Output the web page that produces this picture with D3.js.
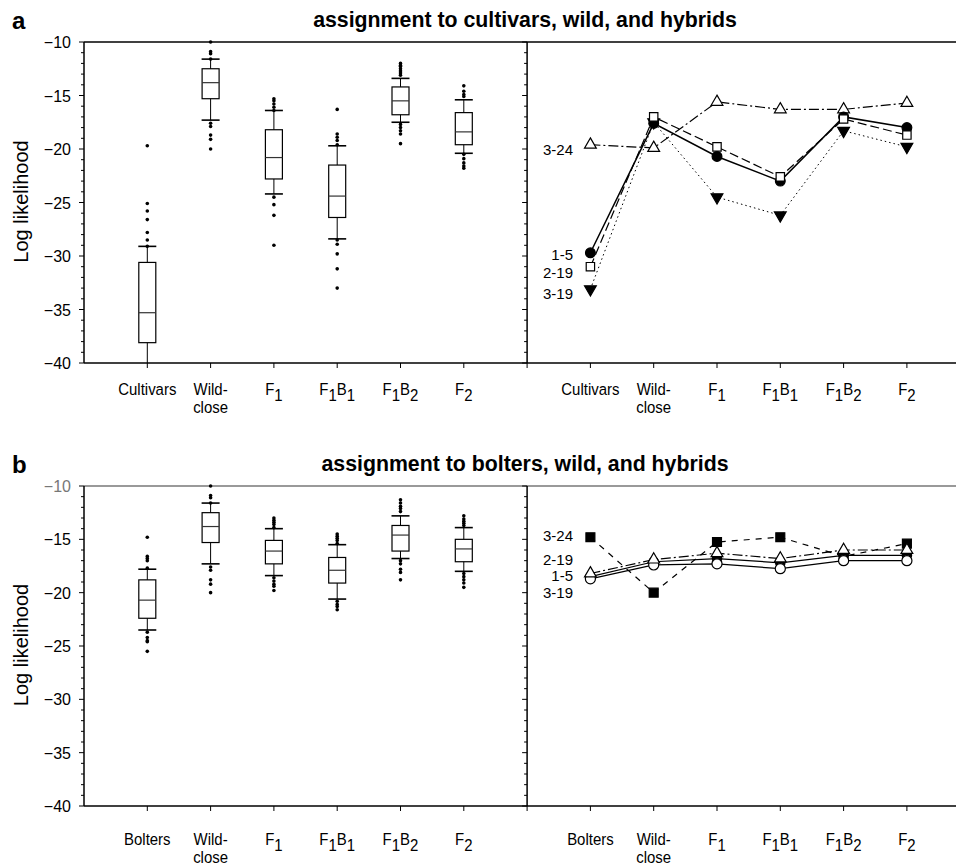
<!DOCTYPE html>
<html>
<head>
<meta charset="utf-8">
<script src="https://cdn.jsdelivr.net/npm/d3@7"></script>
<style>
  body { margin: 0; background: #fff; }
  svg { display: block; font-family: "Liberation Sans", Arial, sans-serif; }
</style>
</head>
<body>
<div id="chart"></div>
<script>
const W = 956, H = 867;

// categories
const catsA = ["Cultivars", "Wild-|close", "F_1", "F_1B_1", "F_1B_2", "F_2"];
const catsB = ["Bolters", "Wild-|close", "F_1", "F_1B_1", "F_1B_2", "F_2"];
const yTicks = [-10, -15, -20, -25, -30, -35, -40];

// panel a boxplots
const aLow    = [-40.0, -17.3, -24.2, -28.4, -17.5, -20.4];
const aQ1     = [-38.1, -15.3, -22.8, -26.4, -16.8, -19.6];
const aMedian = [-35.3, -13.8, -20.8, -24.4, -15.5, -18.4];
const aQ3     = [-30.6, -12.5, -18.2, -21.5, -14.2, -16.6];
const aHigh   = [-29.1, -11.6, -16.4, -19.7, -13.4, -15.4];
const aOutliers = [
  [-19.7, -25.1, -25.8, -26.6, -27.8, -28.5, -29.1],
  [-10.0, -10.9, -11.1, -11.6, -17.6, -17.9, -18.7, -19.1, -20.0],
  [-15.3, -15.5, -15.8, -16.1, -16.4, -24.5, -25.2, -26.2, -29.0],
  [-16.3, -18.6, -18.9, -19.2, -19.6, -28.5, -28.9, -29.8, -31.2, -33.0],
  [-12.0, -12.2, -12.3, -12.5, -12.7, -12.9, -13.1, -17.7, -18.0, -18.3, -18.6, -19.5],
  [-14.1, -14.6, -14.9, -15.1, -20.5, -20.9, -21.3, -21.6, -21.8]
];

// panel b boxplots
const bLow    = [-23.5, -17.3, -18.4, -20.6, -16.8, -18.0];
const bQ1     = [-22.4, -15.3, -17.3, -19.1, -16.1, -17.1];
const bMedian = [-20.7, -13.8, -16.1, -17.9, -14.6, -15.9];
const bQ3     = [-18.8, -12.5, -15.1, -16.7, -13.7, -15.0];
const bHigh   = [-17.8, -11.6, -14.0, -15.5, -12.8, -13.9];
const bOutliers = [
  [-14.8, -16.6, -16.8, -17.0, -17.7, -23.7, -24.2, -24.5, -24.6, -25.5],
  [-10.0, -10.9, -11.1, -11.6, -17.6, -17.9, -18.8, -19.2, -20.0],
  [-13.0, -13.2, -13.4, -13.6, -13.9, -18.6, -18.9, -19.2, -19.4, -19.8],
  [-14.5, -14.7, -14.9, -15.1, -15.4, -20.8, -21.1, -21.3, -21.6],
  [-11.3, -11.6, -11.9, -12.1, -12.4, -17.0, -17.3, -17.8, -18.1, -18.8],
  [-12.8, -13.1, -13.3, -13.5, -13.7, -18.2, -18.5, -18.8, -19.1, -19.5]
];

// panel a individuals
const a_1_5  = [-29.7, -17.6, -20.7, -23.0, -17.0, -18.0];
const a_2_19 = [-31.0, -17.0, -19.8, -22.6, -17.2, -18.7];
const a_3_19 = [-33.1, -17.5, -24.5, -26.2, -18.3, -19.8];
const a_3_24 = [-19.6, -19.9, -15.6, -16.3, -16.3, -15.7];

// panel b individuals
const b_1_5  = [-18.5, -17.1, -16.8, -17.2, -16.5, -16.5];
const b_2_19 = [-18.2, -16.9, -16.3, -16.8, -16.0, -16.0];
const b_3_19 = [-18.7, -17.4, -17.3, -17.75, -17.0, -17.0];
const b_3_24 = [-14.8, -20.0, -15.25, -14.8, -16.6, -15.4];

const svg = d3.select("#chart").append("svg")
  .attr("width", W).attr("height", H);

const x = d3.scaleLinear().domain([0, 14]).range([84, 84 + 14 * 63.3]);

// category label, "|" = line break, "_d" = subscript digit
function catLabel(g, label, xpos, y0) {
  const lines = label.split("|");
  lines.forEach((ln, li) => {
    const t = g.append("text")
      .attr("x", xpos).attr("y", y0 + li * 18)
      .attr("text-anchor", "middle")
      .attr("font-size", 17)
      .attr("transform", `translate(${xpos},0) scale(0.88,1) translate(${-xpos},0)`);
    const parts = ln.split(/(_\d)/).filter(p => p.length);
    let shifted = false;
    parts.forEach(p => {
      if (p[0] === "_") {
        t.append("tspan").attr("dy", 6).text(p[1]);
        shifted = true;
      } else {
        t.append("tspan").attr("dy", shifted ? -6 : 0).text(p);
        shifted = false;
      }
    });
  });
}

function drawPanel(opt) {
  const y = d3.scaleLinear().domain([-40, -10]).range([opt.bottom, opt.top]);
  const g = svg.append("g");

  // panel letter + title
  g.append("text").attr("x", 12).attr("y", opt.top - 13)
    .attr("font-size", 24).attr("font-weight", "bold").text(opt.letter);
  g.append("text").attr("x", 525).attr("y", opt.top - 15)
    .attr("text-anchor", "middle").attr("font-size", 21.3)
    .attr("font-weight", "bold").text(opt.title);

  // frame lines
  g.append("line").attr("x1", x(0)).attr("x2", W).attr("y1", opt.top).attr("y2", opt.top)
    .attr("stroke", opt.topColor).attr("stroke-width", 1.3);
  g.append("line").attr("x1", x(0)).attr("x2", W).attr("y1", opt.bottom).attr("y2", opt.bottom)
    .attr("stroke", "#000").attr("stroke-width", 1.3);
  [0, 7].forEach(p => {
    g.append("line").attr("x1", x(p)).attr("x2", x(p)).attr("y1", opt.top).attr("y2", opt.bottom)
      .attr("stroke", "#000").attr("stroke-width", 1.5);
    d3.range(-40, -9).forEach(v => {
      const major = v % 5 === 0;
      g.append("line").attr("x1", x(p) - (major ? 5 : 3)).attr("x2", x(p))
        .attr("y1", y(v)).attr("y2", y(v)).attr("stroke", "#000").attr("stroke-width", 1);
    });
  });

  // y tick labels
  yTicks.forEach(v => {
    g.append("text").attr("x", 71).attr("y", y(v) + 6)
      .attr("text-anchor", "end").attr("font-size", 16)
      .attr("fill", v === -10 ? opt.topColor : "#000")
      .text("\u2212" + Math.abs(v));
  });
  g.append("text")
    .attr("transform", `translate(28,${(opt.top + opt.bottom) / 2 - 1}) rotate(-90)`)
    .attr("text-anchor", "middle").attr("font-size", 20).text("Log likelihood");

  // x ticks + labels
  d3.range(1, 14).forEach(p => {
    g.append("line").attr("x1", x(p)).attr("x2", x(p))
      .attr("y1", opt.bottom).attr("y2", opt.bottom + 5).attr("stroke", "#000");
  });
  opt.cats.forEach((c, i) => {
    catLabel(g, c, x(i + 1), opt.labelY);
    catLabel(g, c, x(i + 8), opt.labelY);
  });

  // boxplots
  const bw = 17;
  opt.cats.forEach((c, i) => {
    const cx = x(i + 1);
    g.append("line").attr("x1", cx).attr("x2", cx)
      .attr("y1", y(opt.high[i])).attr("y2", y(opt.low[i])).attr("stroke", "#000");
    g.append("rect").attr("x", cx - bw / 2).attr("y", y(opt.q3[i]))
      .attr("width", bw).attr("height", y(opt.q1[i]) - y(opt.q3[i]))
      .attr("fill", "#fff").attr("stroke", "#000").attr("stroke-width", 1.2);
    g.append("line").attr("x1", cx - bw / 2).attr("x2", cx + bw / 2)
      .attr("y1", y(opt.median[i])).attr("y2", y(opt.median[i]))
      .attr("stroke", "#333").attr("stroke-width", 1.2);
    [opt.high[i], opt.low[i]].forEach(v => {
      if (v > -40) {
        g.append("line").attr("x1", cx - 9).attr("x2", cx + 9)
          .attr("y1", y(v)).attr("y2", y(v)).attr("stroke", "#000").attr("stroke-width", 1.6);
      }
    });
    g.selectAll(null).data(opt.outliers[i]).enter().append("circle")
      .attr("cx", cx).attr("cy", d => y(d)).attr("r", 1.8).attr("fill", "#000");
  });

  // individual lines
  const line = d3.line().x((d, i) => x(i + 8)).y(d => y(d));
  opt.series.forEach(s => {
    g.append("path").datum(s.values).attr("d", line)
      .attr("fill", "none").attr("stroke", "#000").attr("stroke-width", s.width || 1.2)
      .attr("stroke-dasharray", s.dash);
  });
  opt.series.forEach(s => {
    const sym = d3.symbol().type(s.symbol).size(s.size);
    g.selectAll(null).data(s.values).enter().append("path")
      .attr("d", sym)
      .attr("transform", (d, i) => `translate(${x(i + 8)},${y(d)})${s.flip ? " rotate(180)" : ""}`)
      .attr("fill", s.fill).attr("stroke", "#000").attr("stroke-width", 1.2);
  });
  opt.tags.forEach(t => {
    g.append("text").attr("x", 573).attr("y", t.y + 5.5)
      .attr("text-anchor", "end").attr("font-size", 15).text(t.text);
  });
}

drawPanel({
  letter: "a", title: "assignment to cultivars, wild, and hybrids",
  top: 42, bottom: 363, labelY: 395, topColor: "#000", cats: catsA,
  low: aLow, q1: aQ1, median: aMedian, q3: aQ3, high: aHigh, outliers: aOutliers,
  series: [
    { values: a_3_19, dash: "1.5,3", symbol: d3.symbolTriangle, size: 60, fill: "#000", flip: true, width: 1 },
    { values: a_3_24, dash: "10,3,2,3", symbol: d3.symbolTriangle, size: 60, fill: "#fff" },
    { values: a_1_5, dash: null, symbol: d3.symbolCircle, size: 75, fill: "#000", width: 1.5 },
    { values: a_2_19, dash: "9,4", symbol: d3.symbolSquare, size: 70, fill: "#fff" }
  ],
  tags: [
    { text: "3-24", y: 149 }, { text: "1-5", y: 254 },
    { text: "2-19", y: 272 }, { text: "3-19", y: 293 }
  ]
});

drawPanel({
  letter: "b", title: "assignment to bolters, wild, and hybrids",
  top: 486, bottom: 806, labelY: 845, topColor: "#777", cats: catsB,
  low: bLow, q1: bQ1, median: bMedian, q3: bQ3, high: bHigh, outliers: bOutliers,
  series: [
    { values: b_3_24, dash: "6,6", symbol: d3.symbolSquare, size: 80, fill: "#000" },
    { values: b_1_5, dash: null, symbol: d3.symbolCircle, size: 70, fill: "#000" },
    { values: b_3_19, dash: null, symbol: d3.symbolCircle, size: 80, fill: "#fff" },
    { values: b_2_19, dash: "10,3,2,3", symbol: d3.symbolTriangle, size: 60, fill: "#fff" }
  ],
  tags: [
    { text: "3-24", y: 535 }, { text: "2-19", y: 559 },
    { text: "1-5", y: 575 }, { text: "3-19", y: 592 }
  ]
});
</script>
</body>
</html>
